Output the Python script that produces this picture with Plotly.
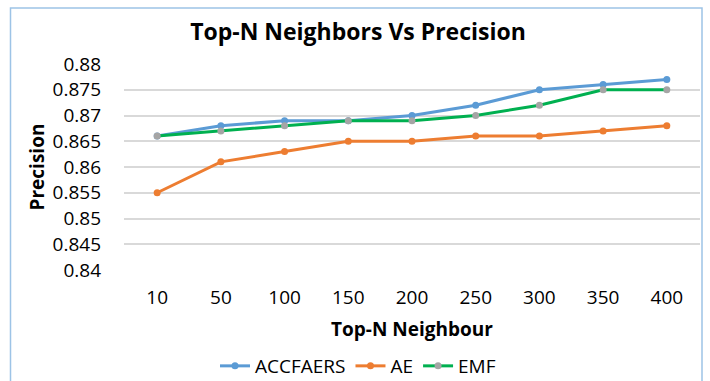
import plotly.graph_objects as go

# Top-N neighbour counts and precision per method
top_n = ["10", "50", "100", "150", "200", "250", "300", "350", "400"]
accfaers = [0.866, 0.868, 0.869, 0.869, 0.870, 0.872, 0.875, 0.876, 0.877]
ae = [0.855, 0.861, 0.863, 0.865, 0.865, 0.866, 0.866, 0.867, 0.868]
emf = [0.866, 0.867, 0.868, 0.869, 0.869, 0.870, 0.872, 0.875, 0.875]
y_ticks = [0.84, 0.845, 0.85, 0.855, 0.86, 0.865, 0.87, 0.875, 0.88]

FONT = "Open Sans"
W, H = 710, 381
L, R, T, B = 124, 10, 64, 111

fig = go.Figure()
fig.add_trace(go.Scatter(
    x=top_n, y=accfaers, name="ACCFAERS", mode="lines+markers",
    line=dict(color="#5B9BD5", width=3), marker=dict(color="#5B9BD5", size=7),
))
fig.add_trace(go.Scatter(
    x=top_n, y=ae, name="AE", mode="lines+markers",
    line=dict(color="#ED7D31", width=3), marker=dict(color="#ED7D31", size=7),
))
fig.add_trace(go.Scatter(
    x=top_n, y=emf, name="EMF", mode="lines+markers",
    line=dict(color="#00B050", width=3), marker=dict(color="#A5A5A5", size=7),
))

pw, ph = W - L - R, H - T - B
def px_x(v):
    return (v - L) / pw
def px_y(v):
    return (H - B - v) / ph

# Light blue chart-area border
fig.add_shape(
    type="rect", xref="paper", yref="paper",
    x0=px_x(10.5), x1=px_x(702), y0=px_y(8), y1=px_y(400),
    line=dict(color="#9DC3E6", width=1.5), fillcolor="rgba(0,0,0,0)",
)

fig.update_layout(
    width=W, height=H,
    margin=dict(l=L, r=R, t=T, b=B, autoexpand=False),
    paper_bgcolor="white", plot_bgcolor="white",
    font=dict(family=FONT, color="#404040"),
    title=dict(
        text="<b>Top-N Neighbors Vs Precision</b>",
        x=358 / W, xanchor="center", xref="container",
        y=1 - 32 / H, yanchor="middle", yref="container",
        font=dict(family=FONT, size=23, color="black"),
    ),
    xaxis=dict(
        type="category", showgrid=False, zeroline=False, showline=False,
        tickfont=dict(family=FONT, size=19, color="black"),
        ticklabelstandoff=14,
        title=dict(text="<b>Top-N Neighbour</b>", font=dict(family=FONT, size=19, color="black"), standoff=13),
    ),
    yaxis=dict(
        range=[0.84, 0.88], tickvals=y_ticks,
        ticktext=[f"{v:g}" for v in y_ticks],
        showgrid=True, gridcolor="#D9D9D9", gridwidth=1.5, zeroline=False, showline=False,
        tickfont=dict(family=FONT, size=19, color="black"),
        ticklabelstandoff=22,
        title=dict(text="<b>Precision</b>", font=dict(family=FONT, size=19, color="black"), standoff=2),
    ),
    legend=dict(
        orientation="h", x=358 / W, xref="container", xanchor="center",
        y=1 - 366 / H, yref="container", yanchor="middle",
        font=dict(family=FONT, size=19, color="black"),
        tracegroupgap=0, itemwidth=30,
    ),
    showlegend=True,
)

fig.write_html("out.html")
